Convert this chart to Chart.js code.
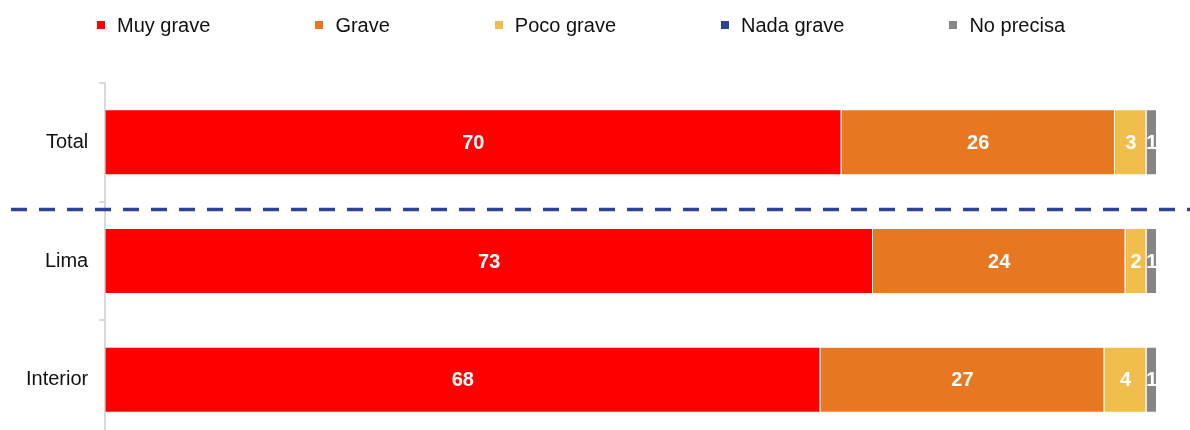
<!DOCTYPE html>
<html lang="es">
<head>
    <meta charset="UTF-8">
    <title>Gravedad del problema</title>
    <script src="https://cdn.jsdelivr.net/npm/chart.js"></script>
    <style>
        html, body { margin: 0; padding: 0; background: #fff; overflow: hidden; }
        body { width: 1190px; height: 430px; position: relative; font-family: "Liberation Sans", Arial, sans-serif; }
        /* taller than the window: the last row runs off the bottom like in the source */
        .chart-box { position: absolute; left: 0; top: 0; width: 1190px; height: 462px; }
        #legend { position: absolute; left: 97px; top: 13px; display: flex; gap: 105px; font-size: 20px; color: #111; line-height: 24px; }
        .leg-item { display: flex; align-items: center; }
        .leg-box { width: 8px; height: 8px; margin-right: 12px; }
    </style>
</head>
<body>
    <div class="chart-box"><canvas id="chart"></canvas></div>
    <div id="legend"></div>

    <script>
        const categories = ['Total', 'Lima', 'Interior'];
        const seriesNames = ['Muy grave', 'Grave', 'Poco grave', 'Nada grave', 'No precisa'];
        const muyGrave  = [70, 73, 68];
        const grave     = [26, 24, 27];
        const pocoGrave = [3, 2, 4];
        const nadaGrave = [0, 0, 0];
        const noPrecisa = [1, 1, 1];
        const colors = ['#FF0000', '#E87722', '#F2BE4B', '#2E4396', '#868686'];
        // separator sits just below the Total row
        const SEPARATOR_AT = 0.565;

        const seriesValues = [muyGrave, grave, pocoGrave, nadaGrave, noPrecisa];

        // html legend
        document.getElementById('legend').innerHTML = seriesNames.map((n, i) => `
            <div class="leg-item"><span class="leg-box" style="background:${colors[i]}"></span>${n}</div>
        `).join('');

        const barLabels = {
            id: 'barLabels',
            afterDatasetsDraw(chart) {
                const ctx = chart.ctx;
                ctx.save();
                ctx.fillStyle = '#fff';
                ctx.font = 'bold 20px "Liberation Sans", Arial, sans-serif';
                ctx.textAlign = 'center';
                ctx.textBaseline = 'middle';
                chart.data.datasets.forEach((ds, di) => {
                    chart.getDatasetMeta(di).data.forEach((bar, i) => {
                        const v = ds.data[i];
                        if (!v) return;
                        ctx.fillText(String(v), (bar.x + bar.base) / 2, bar.y + 1);
                    });
                });
                ctx.restore();
            }
        };

        const separator = {
            id: 'separator',
            afterDraw(chart) {
                const ctx = chart.ctx;
                const y = chart.scales.y.getPixelForValue(SEPARATOR_AT);
                ctx.save();
                ctx.strokeStyle = '#2E4396';
                ctx.lineWidth = 3.5;
                ctx.setLineDash([16, 12]);
                ctx.beginPath();
                ctx.moveTo(11, y);
                ctx.lineTo(chart.width, y);
                ctx.stroke();
                ctx.restore();
            }
        };

        new Chart(document.getElementById('chart'), {
            type: 'bar',
            data: {
                labels: categories,
                datasets: seriesNames.map((n, i) => ({
                    label: n,
                    data: seriesValues[i],
                    backgroundColor: colors[i],
                    borderColor: '#fff',
                    borderWidth: 1,
                    barPercentage: 0.556,
                    categoryPercentage: 1
                }))
            },
            options: {
                indexAxis: 'y',
                responsive: true,
                maintainAspectRatio: false,
                animation: false,
                layout: { padding: { top: 83, right: 33, bottom: 0, left: 15 } },
                plugins: {
                    legend: { display: false },
                    tooltip: { enabled: false }
                },
                scales: {
                    x: { stacked: true, min: 0, max: 100, display: false },
                    y: {
                        stacked: true,
                        border: { display: true, color: '#D9D9D9', width: 2 },
                        grid: { drawOnChartArea: false, drawTicks: true, tickLength: 6, color: '#D9D9D9', lineWidth: 2 },
                        ticks: { color: '#111', padding: 11, font: { size: 20, family: '"Liberation Sans", Arial, sans-serif' } }
                    }
                }
            },
            plugins: [barLabels, separator]
        });
    </script>
</body>
</html>
